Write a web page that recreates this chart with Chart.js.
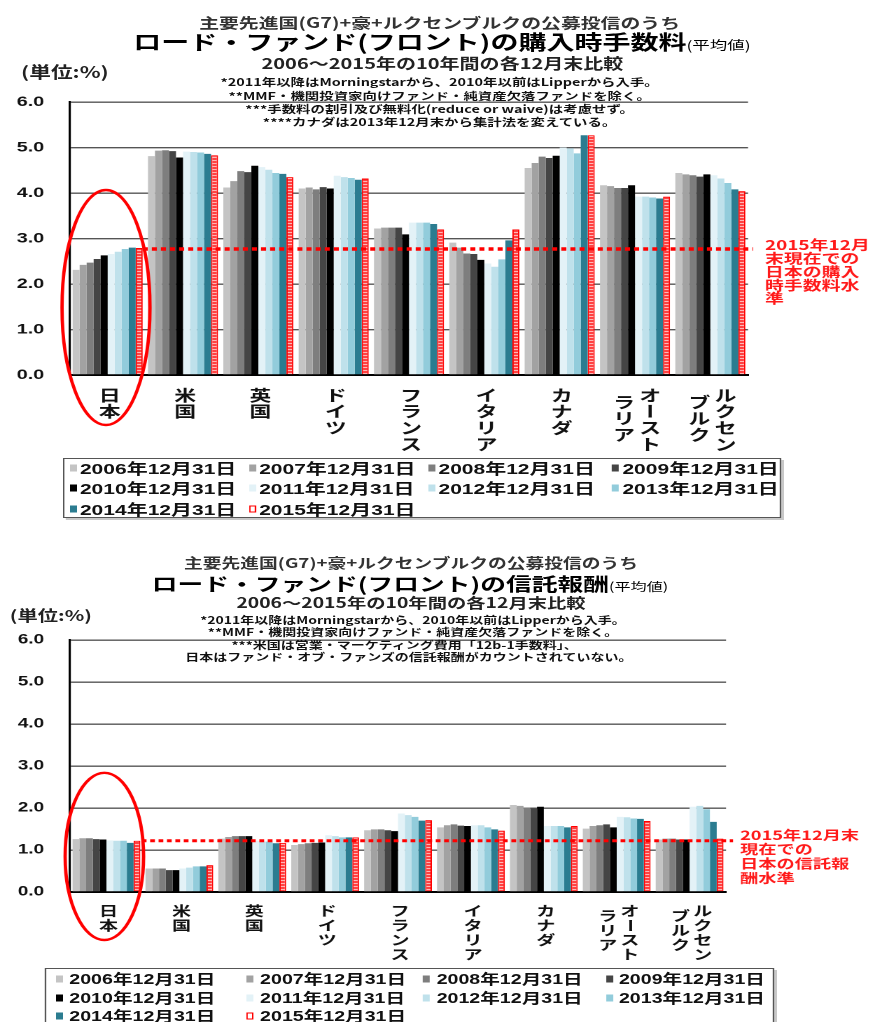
<!DOCTYPE html>
<html lang="ja">
<head>
<meta charset="utf-8">
<title>ロード・ファンド(フロント)の購入時手数料・信託報酬</title>
<script src="https://cdn.jsdelivr.net/npm/chart.js@4.4.1/dist/chart.umd.min.js"></script>
<style>
html,body{margin:0;padding:0;background:#fff;}
body{width:878px;height:1022px;overflow:hidden;position:relative;}
#page{position:absolute;left:0;top:0;width:627px;height:1022px;transform:scaleX(1.4);transform-origin:0 0;
  font-family:"Noto Sans CJK JP","Noto Sans",sans-serif;color:#111;}
.t{position:absolute;white-space:nowrap;line-height:1;transform:translate(-50%,-50%);z-index:3;}
.l{position:absolute;white-space:nowrap;line-height:1;transform:translateY(-50%);z-index:3;}
.cv{position:absolute;left:0;z-index:1;}
.box{position:absolute;border:1.5px solid #555;box-sizing:border-box;box-shadow:2px 2px 0 #c8c8c8;background:#fff;z-index:2;}
.sq{position:absolute;width:5px;height:7px;transform:translateY(-50%);z-index:3;box-sizing:border-box;}
.lt{position:absolute;white-space:nowrap;line-height:1;transform:translateY(-50%);z-index:3;
  font-family:"Liberation Sans","Noto Sans CJK JP",sans-serif;font-weight:bold;color:#111;}
</style>
</head>
<body>
<div id="page">
  <!-- chart 1 headings -->
  <div class="t" style="left:314px;top:21.5px;font-size:14.2px;font-weight:bold;color:#333;">主要先進国(G7)+豪+ルクセンブルクの公募投信のうち</div>
  <div class="t" style="left:315.7px;top:42px;font-weight:bold;color:#000;"><span style="font-size:20px;">ロード・ファンド(フロント)の購入時手数料</span><span style="font-size:12.5px;font-weight:normal;">(平均値)</span></div>
  <div class="t" style="left:316px;top:63px;font-size:14.3px;font-weight:bold;color:#222;">2006～2015年の10年間の各12月末比較</div>
  <div class="l" style="left:15px;top:72px;font-size:15.5px;font-weight:bold;color:#222;">(単位:%)</div>
  <div class="t" style="left:314px;top:82px;font-size:10.3px;font-weight:bold;">*2011年以降はMorningstarから、2010年以前はLipperから入手。</div>
  <div class="t" style="left:314px;top:95.5px;font-size:10.3px;font-weight:bold;">**MMF・機関投資家向けファンド・純資産欠落ファンドを除く。</div>
  <div class="t" style="left:314px;top:108.5px;font-size:10.3px;font-weight:bold;">***手数料の割引及び無料化(reduce or waive)は考慮せず。</div>
  <div class="t" style="left:314px;top:122px;font-size:10.3px;font-weight:bold;">****カナダは2013年12月末から集計法を変えている。</div>
  <canvas id="c1" class="cv" style="top:0px;" width="627" height="455"></canvas>

  <!-- chart 2 headings -->
  <div class="t" style="left:293.6px;top:563px;font-size:13.4px;font-weight:bold;color:#333;">主要先進国(G7)+豪+ルクセンブルクの公募投信のうち</div>
  <div class="t" style="left:292.9px;top:583px;font-weight:bold;color:#000;"><span style="font-size:18.4px;">ロード・ファンド(フロント)の信託報酬</span><span style="font-size:11.5px;font-weight:normal;">(平均値)</span></div>
  <div class="t" style="left:293.6px;top:603px;font-size:13.8px;font-weight:bold;color:#222;">2006～2015年の10年間の各12月末比較</div>
  <div class="l" style="left:7px;top:615px;font-size:14.5px;font-weight:bold;color:#222;">(単位:%)</div>
  <div class="t" style="left:295px;top:620px;font-size:10px;font-weight:bold;">*2011年以降はMorningstarから、2010年以前はLipperから入手。</div>
  <div class="t" style="left:295px;top:632px;font-size:10px;font-weight:bold;">**MMF・機関投資家向けファンド・純資産欠落ファンドを除く。</div>
  <div class="t" style="left:289px;top:645px;font-size:10px;font-weight:bold;">***米国は営業・マーケティング費用「12b-1手数料」、</div>
  <div class="t" style="left:292px;top:657px;font-size:10px;font-weight:bold;">日本はファンド・オブ・ファンズの信託報酬がカウントされていない。</div>
  <canvas id="c2" class="cv" style="top:540px;" width="627" height="425"></canvas>
</div>
<script>
// ---------------- data ----------------
const countries = ['日本','米国','英国','ドイツ','フランス','イタリア','カナダ','オーストラリア','ルクセンブルク'];
// vertical (tategaki) label columns, right column first
const countryLabelColumns = [['日本'],['米国'],['英国'],['ドイツ'],['フランス'],['イタリア'],['カナダ'],['オースト','ラリア'],['ルクセン','ブルク']];
const yearLabels = ['2006年12月31日','2007年12月31日','2008年12月31日','2009年12月31日','2010年12月31日',
                    '2011年12月31日','2012年12月31日','2013年12月31日','2014年12月31日','2015年12月31日'];
const yTickValues = [0,1,2,3,4,5,6];

// chart 1: load (front) purchase fee, %
const load2006 = [2.31,4.81,4.12,4.10,3.22,2.91,4.55,4.17,4.44];
const load2007 = [2.42,4.93,4.26,4.12,3.24,2.80,4.66,4.15,4.41];
const load2008 = [2.47,4.94,4.48,4.08,3.24,2.67,4.80,4.11,4.39];
const load2009 = [2.55,4.92,4.46,4.13,3.24,2.66,4.77,4.11,4.36];
const load2010 = [2.63,4.78,4.60,4.10,3.09,2.53,4.82,4.17,4.41];
const load2011 = [2.66,4.91,4.57,4.38,3.35,2.45,5.00,3.92,4.39];
const load2012 = [2.71,4.90,4.51,4.35,3.35,2.38,4.98,3.92,4.32];
const load2013 = [2.77,4.89,4.44,4.33,3.35,2.54,4.87,3.90,4.22];
const load2014 = [2.80,4.86,4.42,4.29,3.32,2.96,5.27,3.88,4.08];
const load2015 = [2.79,4.83,4.35,4.32,3.20,3.20,5.27,3.92,4.04];
const japanLoadLevel2015 = 2.77;

// chart 2: trust fee (expense), %
const trust2006 = [1.26,0.56,1.27,1.12,1.47,1.54,2.07,1.51,1.25];
const trust2007 = [1.28,0.56,1.31,1.14,1.49,1.59,2.05,1.57,1.27];
const trust2008 = [1.28,0.56,1.33,1.16,1.49,1.61,2.01,1.59,1.27];
const trust2009 = [1.26,0.52,1.33,1.17,1.47,1.58,1.99,1.61,1.25];
const trust2010 = [1.25,0.52,1.33,1.18,1.45,1.57,2.03,1.54,1.25];
const trust2011 = [1.23,0.56,1.22,1.35,1.87,1.59,1.57,1.79,2.03];
const trust2012 = [1.22,0.58,1.20,1.33,1.83,1.59,1.57,1.78,2.05];
const trust2013 = [1.22,0.61,1.20,1.30,1.79,1.54,1.57,1.75,1.97];
const trust2014 = [1.17,0.61,1.16,1.30,1.70,1.49,1.54,1.74,1.67];
const trust2015 = [1.22,0.64,1.17,1.30,1.71,1.46,1.57,1.69,1.27];
const japanTrustLevel2015 = 1.22;

const loadNote = ['2015年12月','末現在での','日本の購入','時手数料水','準'];
const trustNote = ['2015年12月末','現在での','日本の信託報','酬水準'];

// ---------------- styling ----------------
const yearColors = ['#c4c4c4','#a2a2a2','#7e7e7e','#454545','#000000','#e3f2f7','#bfe1eb','#92ccdb','#2b7c90','#ff2020'];
const CAT_PCT = 0.93;

function hatchPattern(){
  const c=document.createElement('canvas'); c.width=6; c.height=3;
  const g=c.getContext('2d');
  g.fillStyle='#ff2a2a'; g.fillRect(0,0,6,3);
  g.fillStyle='#ffe6e6'; g.fillRect(0,1,6,1);
  return g.createPattern(c,'repeat');
}

function makeDatasets(series){
  return series.map((d,i)=>({
    label:yearLabels[i], data:d,
    backgroundColor: i===9 ? hatchPattern() : yearColors[i],
    borderColor: i===9 ? '#ff0000' : yearColors[i],
    borderWidth: i===9 ? 1 : 0,
    barPercentage:1.0, categoryPercentage:CAT_PCT
  }));
}

const overlayPlugin = {
  id:'overlay',
  afterDatasetsDraw(chart, args, o){
    const {ctx, scales:{x,y}, chartArea} = chart;
    const gw = x.getPixelForValue(1)-x.getPixelForValue(0);
    const x0 = x.getPixelForValue(0) + gw*CAT_PCT/2 + o.lineStartDx;
    const yy = y.getPixelForValue(o.level);
    ctx.save();
    ctx.strokeStyle='#ff0000'; ctx.lineWidth=o.lineWidth;
    ctx.setLineDash(o.dash);
    ctx.beginPath(); ctx.moveTo(x0,yy); ctx.lineTo(chartArea.right+o.lineEndDx,yy); ctx.stroke();
    ctx.restore();
  },
  afterDraw(chart, args, o){
    const {ctx, scales:{x,y}, chartArea} = chart;
    ctx.save();
    // ellipse around Japan
    ctx.strokeStyle='#ff0000'; ctx.lineWidth=o.ellipse.lw;
    ctx.beginPath();
    ctx.ellipse(x.getPixelForValue(0)+o.ellipse.dx, o.ellipse.cy, o.ellipse.rx, o.ellipse.ry, 0, 0, Math.PI*2);
    ctx.stroke();
    // vertical category labels
    ctx.fillStyle='#111';
    ctx.font = 'bold '+o.labelFont+'px "Noto Sans CJK JP", sans-serif';
    ctx.textAlign='center'; ctx.textBaseline='middle';
    countryLabelColumns.forEach((cols,i)=>{
      const cx = x.getPixelForValue(i) + o.labelDx;
      cols.forEach((col,j)=>{
        const colX = cols.length===1 ? cx : cx + (j===0 ? o.colDx : -o.colDx);
        const startY = chartArea.bottom + o.labelTop + (j>0 ? o.colShift : 0);
        [...col].forEach((ch,k)=>{
          const yy = startY + k*o.pitch;
          if(ch==='ー'){
            ctx.save(); ctx.translate(colX,yy); ctx.rotate(Math.PI/2); ctx.fillText(ch,0,0); ctx.restore();
          } else ctx.fillText(ch,colX,yy);
        });
      });
    });
    // red note on the right
    ctx.fillStyle='#ff1a1a';
    ctx.font = 'bold '+o.noteFont+'px "Noto Sans CJK JP", sans-serif';
    ctx.textAlign='left';
    o.note.forEach((s,k)=>ctx.fillText(s, chartArea.right+o.noteDx, o.noteTop + k*o.notePitch));
    ctx.restore();
  }
};

function makeChart(id, series, cfg){
  return new Chart(document.getElementById(id), {
    type:'bar',
    data:{labels:countries, datasets:makeDatasets(series)},
    plugins:[overlayPlugin],
    options:{
      responsive:false, animation:false, devicePixelRatio:2,
      layout:{padding:{left:0, top:cfg.padTop, right:cfg.padRight, bottom:0}},
      plugins:{legend:{display:false}, tooltip:{enabled:false}, title:{display:false}, overlay:cfg.overlay},
      scales:{
        x:{
          ticks:{display:false},
          grid:{display:true, color:'rgba(0,0,0,0)', drawTicks:false},
          border:{display:true, color:'#000', width:2},
          afterFit(s){ s.height = cfg.xHeight; }
        },
        y:{
          min:0, max:6,
          afterBuildTicks(s){ s.ticks = yTickValues.map(v=>({value:v})); },
          afterFit(s){ s.width = 50; },
          ticks:{padding:18.5, color:'#111', font:{family:'"Liberation Sans", Arial, sans-serif', size:cfg.tickFont, weight:'bold'},
                 callback:v=>Number(v).toFixed(1)},
          grid:{color:'#555', lineWidth:1.4, drawTicks:false},
          border:{display:true, color:'#000', width:1.6}
        }
      }
    }
  });
}

makeChart('c1', [load2006,load2007,load2008,load2009,load2010,load2011,load2012,load2013,load2014,load2015], {
  padTop:102, padRight:92.7, xHeight:80, tickFont:14,
  overlay:{level:japanLoadLevel2015, lineWidth:3.5, dash:[3.6,2.9], lineStartDx:0, lineEndDx:3.6,
    ellipse:{dx:-1.2, cy:307.5, rx:31.4, ry:117.5, lw:2.4},
    labelFont:15.5, labelTop:20, pitch:16.3, colDx:9.3, colShift:7, labelDx:1.5,
    note:loadNote, noteFont:13.5, noteDx:12.1, noteTop:245, notePitch:13.4}
});

makeChart('c2', [trust2006,trust2007,trust2008,trust2009,trust2010,trust2011,trust2012,trust2013,trust2014,trust2015], {
  padTop:100, padRight:108.4, xHeight:73, tickFont:13.5,
  overlay:{level:japanTrustLevel2015, lineWidth:3, dash:[3.4,2.6], lineStartDx:1, lineEndDx:5,
    ellipse:{dx:-1.5, cy:316.4, rx:28, ry:83.6, lw:2.4},
    labelFont:13.5, labelTop:19, pitch:14.5, colDx:7.9, colShift:5, labelDx:1.5,
    note:trustNote, noteFont:13, noteDx:10, noteTop:295, notePitch:14.3}
});

// ---------------- HTML legends ----------------
function buildLegend(cfg){
  const page=document.getElementById('page');
  const box=document.createElement('div');
  box.className='box';
  Object.assign(box.style,{left:cfg.left+'px',top:cfg.top+'px',width:cfg.width+'px',height:cfg.height+'px'});
  page.appendChild(box);
  yearLabels.forEach((lab,i)=>{
    const col=i%4, row=Math.floor(i/4);
    const sx=cfg.cols[col], sy=cfg.rows[row];
    const sq=document.createElement('div'); sq.className='sq';
    sq.style.left=sx+'px'; sq.style.top=sy+'px';
    if(i===9){ sq.style.border='1.3px solid #ff0000'; sq.style.background='#fff'; }
    else sq.style.background=yearColors[i];
    page.appendChild(sq);
    const t=document.createElement('div'); t.className='lt';
    t.textContent=lab; t.style.left=(sx+cfg.textDx)+'px'; t.style.top=sy+'px'; t.style.fontSize=cfg.font+'px';
    page.appendChild(t);
  });
}
buildLegend({left:44.6, top:458, width:513.8, height:60, cols:[49.6,177.6,305.7,437.1], rows:[468,488,509], textDx:7.5, font:15});
buildLegend({left:32, top:968, width:521, height:64, cols:[40,176.3,302.4,432.6], rows:[979,997.5,1016], textDx:9.5, font:14});
</script>
</body>
</html>
